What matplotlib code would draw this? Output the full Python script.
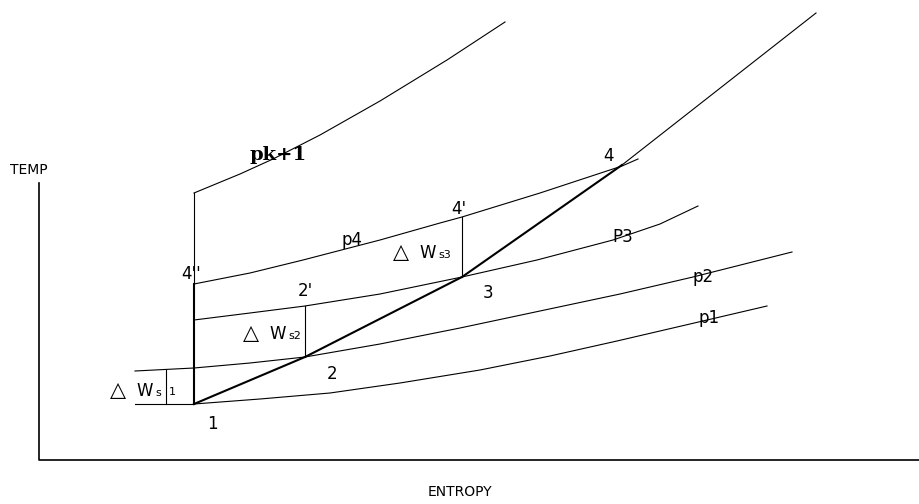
import numpy as np
import matplotlib.pyplot as plt

# schematic T-s diagram, coordinates read in picture pixels (y down)
pk1_x = [194, 240, 273, 320, 380, 447, 505]
pk1_y = [193, 174, 159, 135, 101, 60, 22]

p4_x = [194, 250, 303, 380, 440, 462, 540, 622, 638]
p4_y = [284, 273, 260, 240, 223, 217, 193, 166, 159]

p3_x = [194, 250, 305, 380, 462, 537, 613, 660, 698]
p3_y = [320, 313, 306, 294, 277, 260, 240, 224, 206]

p2_x = [135, 194, 250, 305, 380, 460, 540, 620, 693, 792]
p2_y = [371, 368, 363, 357, 344, 328, 311, 294, 277, 252]

p1_x = [194, 260, 330, 400, 480, 550, 617, 690, 767]
p1_y = [404, 399, 393, 383, 370, 356, 341, 324, 306]

proc_x = [194, 305, 462, 622]
proc_y = [404, 357, 277, 165]
ext_x = [622, 816]
ext_y = [165, 13]

fig = plt.figure(figsize=(9.2, 5.04), dpi=100)
ax = fig.add_axes([0, 0, 1, 1])
ax.set_xlim(0, 920)
ax.set_ylim(504, 0)
ax.axis('off')

lw = 0.8
# axes of the diagram
ax.plot([39, 39, 920], [183, 460, 460], color='k', lw=1.2)

for xs, ys in [(pk1_x, pk1_y), (p4_x, p4_y), (p3_x, p3_y), (p2_x, p2_y), (p1_x, p1_y)]:
    ax.plot(xs, ys, color='k', lw=lw)

ax.plot(proc_x, proc_y, color='k', lw=1.5)
ax.plot(ext_x, ext_y, color='k', lw=lw)

# verticals
ax.plot([194, 194], [404, 284], color='k', lw=1.5)
ax.plot([194, 194], [284, 193], color='k', lw=lw)
ax.plot([305, 305], [357, 306], color='k', lw=lw)
ax.plot([462, 462], [277, 217], color='k', lw=lw)
ax.plot([166, 166], [370, 404], color='k', lw=lw)
ax.plot([135, 194], [404, 404], color='k', lw=lw)

fs = 12
ax.text(29, 170, 'TEMP', fontsize=10, ha='center', va='center')
ax.text(460, 492, 'ENTROPY', fontsize=10, ha='center', va='center')

pts = [('1', 212, 424), ('2', 332, 374), ('3', 488, 293), ('4', 609, 156),
       ("4'", 459, 209), ("2'", 305, 291), ("4''", 191, 274),
       ('p4', 352, 240), ('P3', 623, 237), ('p2', 703, 277), ('p1', 709, 318)]
for s, x, y in pts:
    ax.text(x, y, s, fontsize=fs, ha='center', va='center')

ax.text(278, 155, 'pk+1', fontsize=14, fontweight='bold', family='DejaVu Serif',
        ha='center', va='center')

for x, y, sub in [(118, 390, 's'), (251, 333, 's2'), (401, 252, 's3')]:
    ax.text(x, y, '\u25b3', fontsize=15, ha='center', va='center')
    ax.text(x + 18, y + 1, 'W', fontsize=12, ha='left', va='center')
    ax.text(x + 37, y + 3, sub, fontsize=8, ha='left', va='center')
ax.text(172, 392, '1', fontsize=8, ha='center', va='center')

fig.savefig('out.png', dpi=100)
